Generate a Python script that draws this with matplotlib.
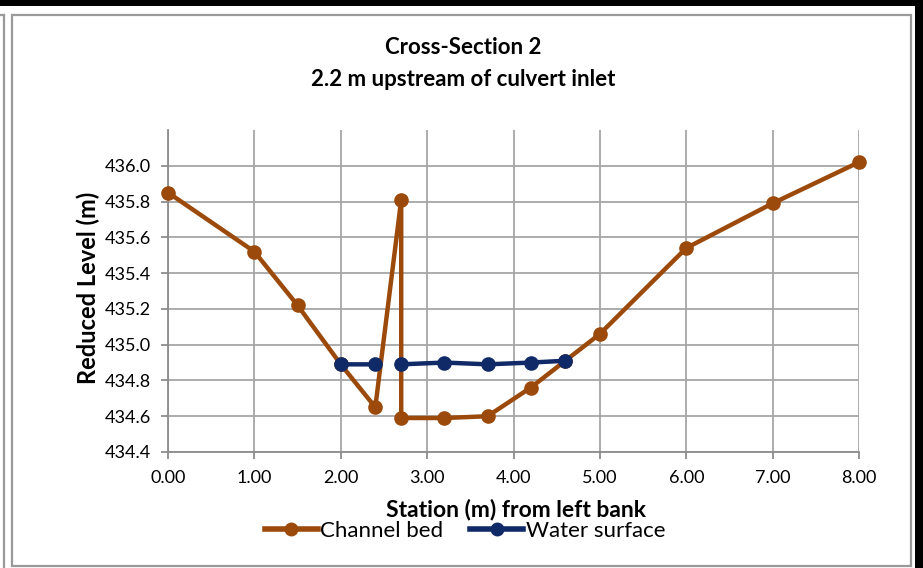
import numpy as np
import matplotlib
matplotlib.use("Agg")
import matplotlib.pyplot as plt
from matplotlib.patches import Rectangle
from matplotlib.lines import Line2D
from matplotlib.ticker import FormatStrFormatter

plt.rcParams['font.family'] = ['Lato', 'DejaVu Sans']

# Data
bed_station = [0.0, 1.0, 1.5, 2.0, 2.4, 2.7, 2.7, 3.2, 3.7, 4.2, 4.6, 5.0, 6.0, 7.0, 8.0]
bed_level = [435.85, 435.52, 435.22, 434.89, 434.65, 435.81, 434.59, 434.59, 434.60,
             434.76, 434.91, 435.06, 435.54, 435.79, 436.02]
water_station = [2.0, 2.4, 2.7, 2.7, 3.2, 3.7, 4.2, 4.6]
water_level = [434.89, 434.89, np.nan, 434.89, 434.90, 434.89, 434.90, 434.91]

title_lines = ["Cross-Section 2", "2.2 m upstream of culvert inlet"]
x_label = "Station (m) from left bank"
y_label = "Reduced Level (m)"
series_names = ["Channel bed", "Water surface"]

W, H = 923, 568
fig = plt.figure(figsize=(W / 100, H / 100), dpi=100)

def fx(px):
    return px / W

def fy(py):
    return 1 - py / H

# frames
fig.add_artist(Rectangle((fx(0), fy(6)), 1, 6 / H, transform=fig.transFigure,
                         facecolor='black', edgecolor='none'))
fig.add_artist(Rectangle((fx(915), 0), 8 / W, 1, transform=fig.transFigure,
                         facecolor='black', edgecolor='none'))
fig.add_artist(Rectangle((fx(12), fy(566)), (911 - 12) / W, (566 - 15) / H,
                         transform=fig.transFigure, facecolor='none',
                         edgecolor='#9a9a9a', linewidth=1.6))
fig.add_artist(Line2D([fx(4), fx(4)], [fy(15), 0], transform=fig.transFigure,
                      color='#9a9a9a', linewidth=1.6))
fig.add_artist(Line2D([0, fx(4)], [fy(15), fy(15)], transform=fig.transFigure,
                      color='#9a9a9a', linewidth=1.6))

ax = fig.add_axes([fx(168), fy(452), (859 - 168) / W, (452 - 130) / H])

bed_color = '#9C4A0B'
water_color = '#0F2A66'

ax.plot(bed_station, bed_level, color=bed_color, linewidth=3.2, marker='o',
        markersize=9.5, clip_on=False, zorder=3, label=series_names[0])
ax.plot(water_station, water_level, color=water_color, linewidth=3.2, marker='o',
        markersize=9.5, clip_on=False, zorder=4, label=series_names[1])

ax.set_xlim(0, 8)
ax.set_ylim(434.4, 436.2)
ax.set_xticks(np.arange(0, 8.01, 1.0))
ax.set_yticks(np.arange(434.4, 436.01, 0.2))
ax.xaxis.set_major_formatter(FormatStrFormatter('%.2f'))
ax.yaxis.set_major_formatter(FormatStrFormatter('%.1f'))

grid_color = '#a6a6a6'
ax.grid(True, color=grid_color, linewidth=1.3, zorder=0)
ax.set_axisbelow(True)
for s in ['top', 'right']:
    ax.spines[s].set_visible(False)
for s in ['left', 'bottom']:
    ax.spines[s].set_color('#8c8c8c')
    ax.spines[s].set_linewidth(1.3)
ax.tick_params(axis='both', colors='#8c8c8c', labelcolor='black', labelsize=13,
               length=5, width=1.3, direction='out')
ax.tick_params(axis='x', pad=8)
ax.tick_params(axis='y', pad=7)

fig.text(fx(463), fy(48), title_lines[0], ha='center', va='center',
         fontsize=16, fontweight='bold')
fig.text(fx(463), fy(80), title_lines[1], ha='center', va='center',
         fontsize=16, fontweight='bold')
fig.text(fx(88), fy(288), y_label, ha='center', va='center', rotation=90,
         fontsize=17, fontweight='bold')
fig.text(fx(516), fy(509), x_label, ha='center', va='center',
         fontsize=16.5, fontweight='bold')

handles = [Line2D([], [], color=bed_color, linewidth=4, marker='o', markersize=9),
           Line2D([], [], color=water_color, linewidth=4, marker='o', markersize=9)]
fig.legend(handles, series_names, loc='center', bbox_to_anchor=(fx(465), fy(531)),
           ncol=2, frameon=False, fontsize=16, handlelength=2.4,
           handletextpad=0.1, columnspacing=1.2, borderpad=0)

fig.savefig('out.png', dpi=100)
